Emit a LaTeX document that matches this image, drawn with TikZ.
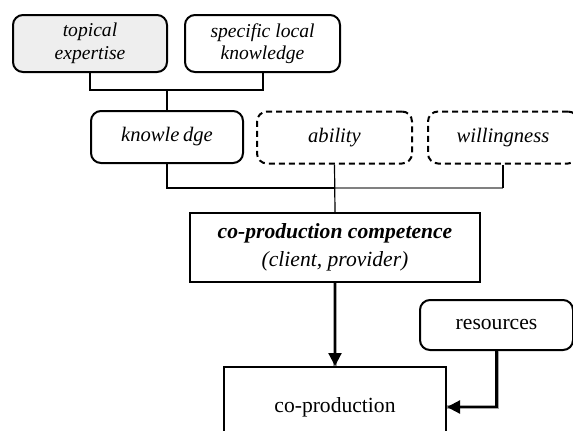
\documentclass[tikz,border=0pt]{standalone}
\usepackage{fontspec}
\setmainfont{Liberation Serif}
\usetikzlibrary{arrows.meta}

\begin{document}
\begin{tikzpicture}[
    x=0.5pt,
    y=-0.5pt,
    line cap=butt,
    line join=miter,
    box/.style={draw,line width=1pt,align=center,inner sep=1pt,
                font=\fontsize{10.8}{12.5}\selectfont},
    roundbox/.style={box,rounded corners=5pt},
    dashbox/.style={roundbox,dash pattern=on 3pt off 2pt},
    link/.style={line width=1pt},
    thinlink/.style={line width=0.6pt},
    flow/.style={line width=1.1pt,
                 preaction={draw=gray!70,line width=2pt,-},
                 -{Triangle[length=6.5pt,width=6.5pt]}}
]
\useasboundingbox (0,0) rectangle (573,430);
\clip (0,0) rectangle (573,430);

% -------------------------------------------------
% Sources of knowledge
% -------------------------------------------------

\node[roundbox,fill=gray!13,minimum width=77pt,minimum height=28.5pt,
      font=\fontsize{9.8}{11.3}\selectfont\itshape]
    (topical) at (90,43.5) {topical\\expertise};
\node[roundbox,minimum width=77.5pt,minimum height=28.5pt,
      font=\fontsize{9.8}{11.3}\selectfont\itshape]
    (specific) at (262.5,43.5) {specific local\\knowledge};

% -------------------------------------------------
% Parts of the competence
% -------------------------------------------------

\node[roundbox,minimum width=76pt,minimum height=26pt,
      font=\fontsize{10.3}{12}\selectfont\itshape]
    (knowledge) at (167,137) {knowle\,dge};
\node[dashbox,minimum width=77.5pt,minimum height=26pt,
      font=\fontsize{10.3}{12}\selectfont\itshape]
    (ability) at (334.5,137.5) {ability};
\node[dashbox,minimum width=75pt,minimum height=26pt,
      font=\fontsize{10.3}{12}\selectfont\itshape]
    (willingness) at (503,137.5) {willingness};

% -------------------------------------------------
% Competence, resources and result
% -------------------------------------------------

\node[box,minimum width=145pt,minimum height=34.5pt,
      font=\fontsize{10.8}{14}\selectfont]
    (competence) at (335,247.5)
    {\textbf{\textit{co-production competence}}\\\textit{(client, provider)}};
\node[roundbox,minimum width=76.5pt,minimum height=25pt]
    (resources) at (496.5,325) {resources};
\node[box,minimum width=111pt,minimum height=40pt]
    (coprod) at (335,407) {co-production};

% -------------------------------------------------
% Connectors
% -------------------------------------------------

\coordinate (busA) at (167,90);
\coordinate (busB) at (335,188);

\draw[link] (topical.south) |- (busA) -| (specific.south);
\draw[link] (busA) -- (knowledge.north);

\draw[link] (knowledge.south) |- (busB);
\draw[thinlink,gray] (busB) -- (busB -| willingness.south);
\draw[link] (busB -| willingness.south) -- (willingness.south);
\draw[thinlink] (ability.south) -- (competence.north);

\draw[flow] (competence.south) -- (coprod.north);
\draw[flow] (resources.south) |- (coprod.east);

\end{tikzpicture}
\end{document}
